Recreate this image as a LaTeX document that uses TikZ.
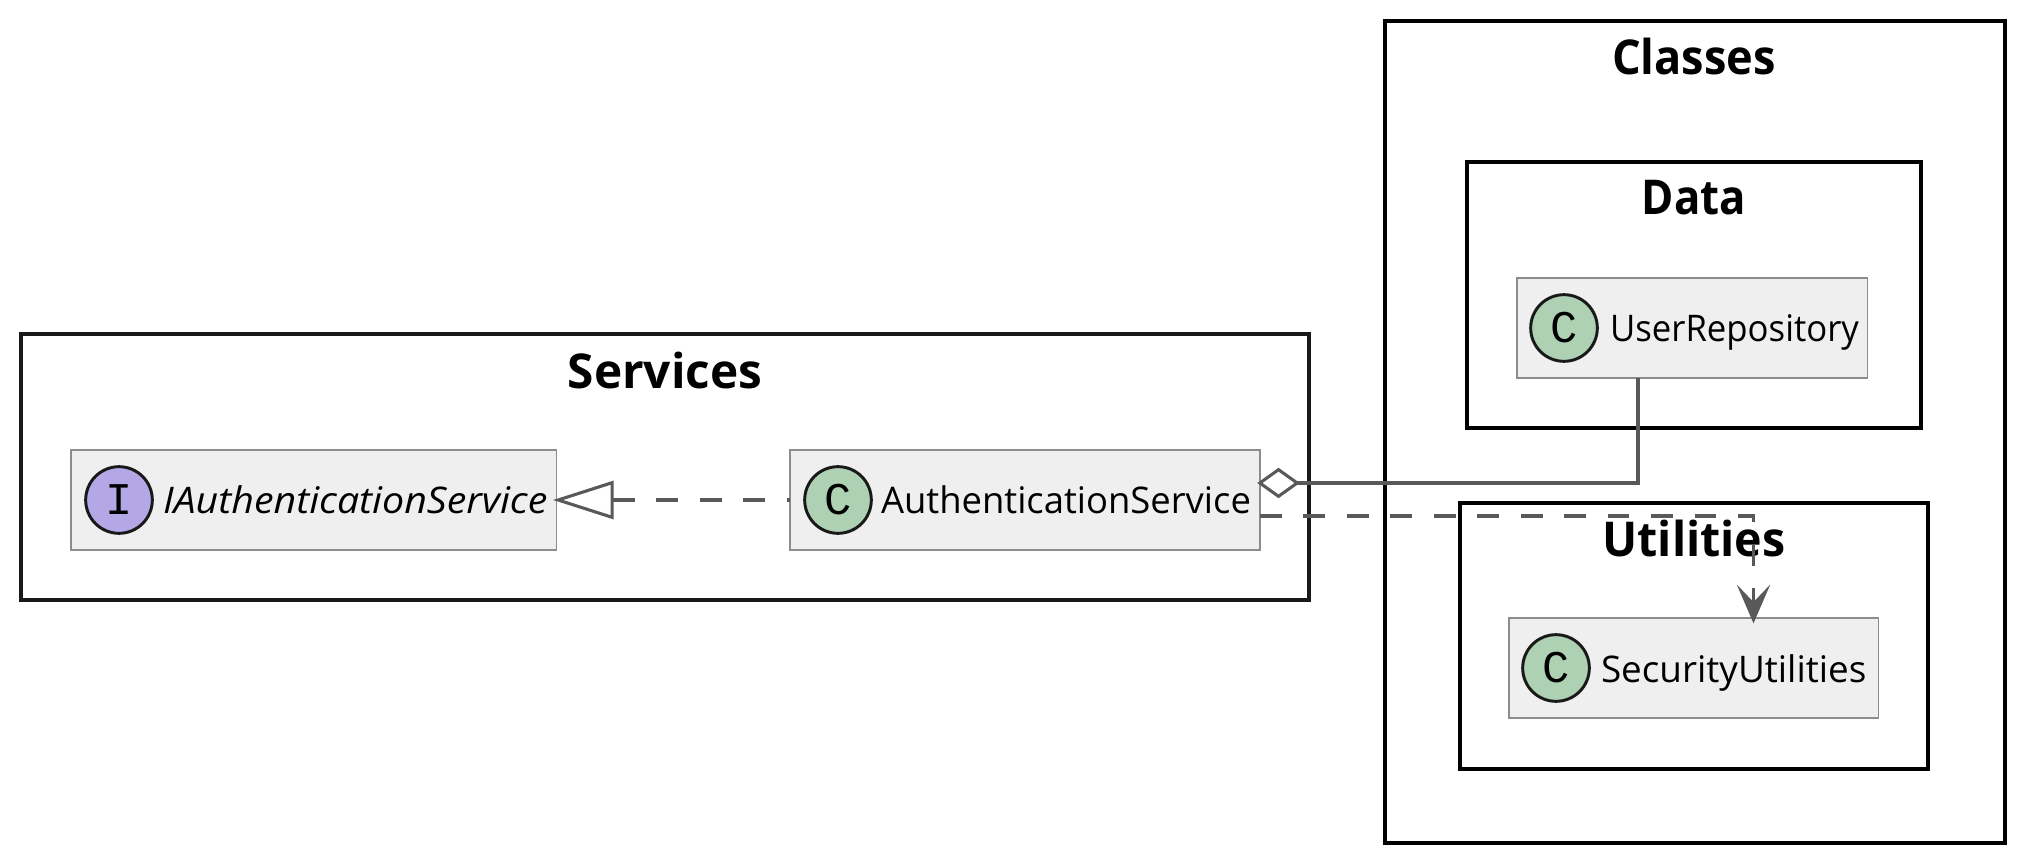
\documentclass[tikz,border=0pt]{standalone}
\usepackage{fontspec}
\setmainfont{Open Sans}
\newfontfamily\badgefont{Liberation Mono}
\usetikzlibrary{arrows.meta,shapes.geometric}
\definecolor{cgreen}{HTML}{ADD1B2}
\definecolor{cpurple}{HTML}{B4A7E5}
\definecolor{boxfill}{HTML}{EFEFEF}
\tikzset{
  x=0.75pt,y=-0.75pt,
  frameA/.style={draw=#1,fill=none,rectangle,anchor=north west,inner sep=0pt,outer sep=0pt},
  classbox/.style={draw=black!45,fill=boxfill,line width=1.1pt,rectangle,anchor=north west,inner sep=0pt,outer sep=0pt,minimum height=75pt},
  badge/.style={circle,draw=black!90,line width=2.2pt,inner sep=0pt,outer sep=0pt,minimum size=50pt,text=black,font=\badgefont\fontsize{34}{34}\selectfont},
  classlabel/.style={anchor=base west,inner sep=0pt,outer sep=0pt,text=black,font=\fontsize{27.5}{30}\selectfont},
  frametitle/.style={anchor=base,inner sep=0pt,outer sep=0pt,text=black,font=\bfseries\fontsize{36}{40}\selectfont},
  conn/.style={draw=black!65,line width=2.3pt},
  dashconn/.style={conn,dash pattern=on 16.3pt off 16.3pt},
}
\begin{document}
\begin{tikzpicture}
\useasboundingbox (0,0) rectangle (2018,859);
\fill[white] (0,0) rectangle (2018,859);
% frames
\node[frameA=black!90,line width=2.4pt,minimum width=966pt,minimum height=199.5pt] (services) at (21,334) {};
\node[frameA=black,line width=3.6pt,minimum width=465pt,minimum height=616.5pt] (classes) at (1385,21) {};
\node[frameA=black,line width=3.6pt,minimum width=340.5pt,minimum height=199.5pt] (data) at (1467,162) {};
\node[frameA=black,line width=3.6pt,minimum width=351pt,minimum height=199.5pt] (utils) at (1460,503) {};
% titles
\node[frametitle] (tServices) at (665,388) {\scalebox{0.995}[1]{Services}};
\node[frametitle] (tClasses) at (1694,75) {\scalebox{0.94}[1]{Classes}};
\node[frametitle] (tData) at (1694,215) {\scalebox{0.91}[1]{Data}};
\node[frametitle] (tUtils) at (1694,556) {\scalebox{0.97}[1]{Utilities}};
% class boxes
\node[classbox,minimum width=364pt] (iauth) at (71,450) {};
\node[classbox,minimum width=352.5pt] (auth) at (790,450) {};
\node[classbox,minimum width=263pt] (repo) at (1517,278) {};
\node[classbox,minimum width=277pt] (sec) at (1509,618) {};
% badges
\node[badge,fill=cpurple] (bI) at (119,500) {I};
\node[badge,fill=cgreen] (bA) at (838,500) {C};
\node[badge,fill=cgreen] (bR) at (1564,328) {C};
\node[badge,fill=cgreen] (bS) at (1556,668) {C};
% labels
\node[classlabel] (lI) at (163,513) {\scalebox{1.073}[1]{\itshape IAuthenticationService}};
\node[classlabel] (lA) at (881,513) {\scalebox{0.993}[1]{AuthenticationService}};
\node[classlabel] (lR) at (1610,342) {\scalebox{0.947}[1]{UserRepository}};
\node[classlabel] (lS) at (1601,682) {\scalebox{1.005}[1]{SecurityUtilities}};
% connectors
\coordinate (implL) at (iauth.east);
\coordinate (implR) at (auth.west);
\draw[dashconn,shorten <=-2.5pt,{Triangle[open,length=45.5pt,width=28.5pt,line width=2.3pt,fill=white]}-] (implL) -- (implR);
\node[diamond,draw=black!65,line width=2.3pt,fill=white,inner sep=0pt,outer sep=0pt,minimum width=28pt,minimum height=20pt] (agg) at (1278.5,483) {};
\coordinate (aggTurn) at (1638,483);
\draw[conn] (agg.east) -- (aggTurn) -- (aggTurn |- repo.south);
\coordinate (depStart) at (1260,516);
\coordinate (depTurn) at (1753.5,516);
\draw[dashconn,shorten >=-4pt,-{Stealth[length=29pt,width=25pt,inset=13pt]}] (depStart) -- (depTurn) -- (depTurn |- sec.north);
\end{tikzpicture}
\end{document}
